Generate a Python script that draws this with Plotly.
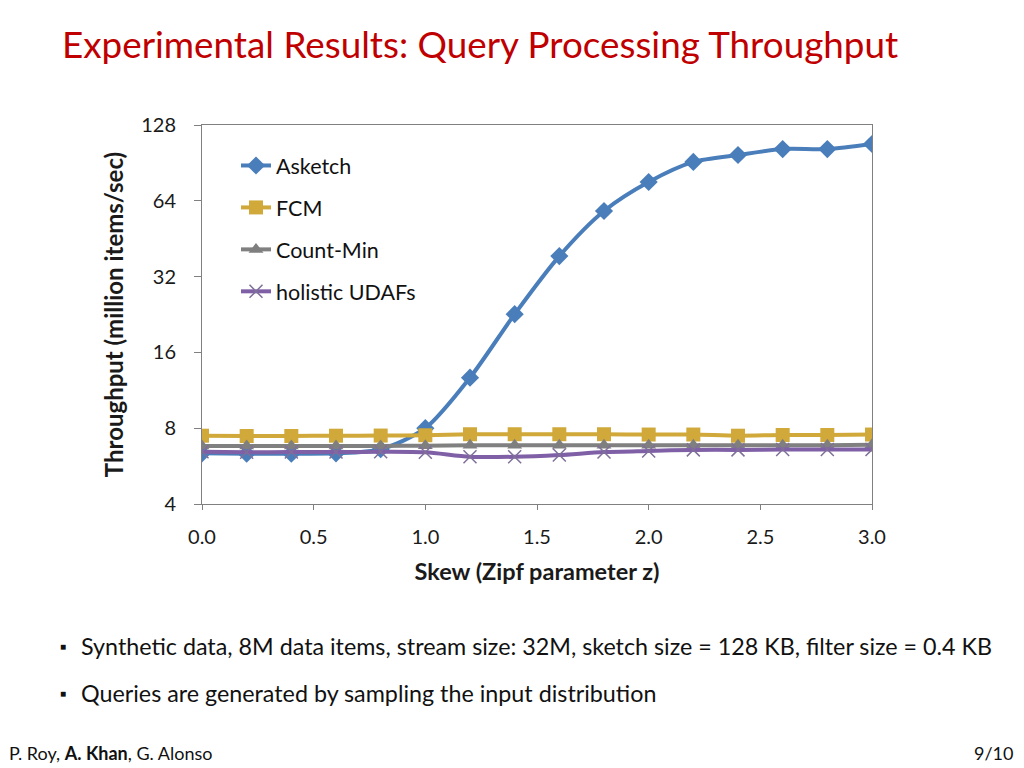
import plotly.graph_objects as go

skew = [0.0, 0.2, 0.4, 0.6, 0.8, 1.0, 1.2, 1.4, 1.6, 1.8, 2.0, 2.2, 2.4, 2.6, 2.8, 3.0]
asketch = [6.36, 6.34, 6.34, 6.36, 6.6, 8.0, 12.7, 22.7, 38.6, 58.3, 76.0, 91.3, 97.3, 102.7, 102.7, 107.6]
fcm = [7.47, 7.45, 7.45, 7.47, 7.48, 7.5, 7.57, 7.57, 7.57, 7.57, 7.55, 7.55, 7.47, 7.52, 7.52, 7.55]
countmin = [6.8, 6.8, 6.8, 6.8, 6.8, 6.82, 6.85, 6.85, 6.85, 6.85, 6.85, 6.85, 6.85, 6.85, 6.85, 6.87]
holistic = [6.45, 6.42, 6.43, 6.43, 6.45, 6.42, 6.16, 6.16, 6.26, 6.43, 6.5, 6.56, 6.56, 6.58, 6.58, 6.58]

y_ticks = [4, 8, 16, 32, 64, 128]
x_ticks = [0.0, 0.5, 1.0, 1.5, 2.0, 2.5, 3.0]
x_tick_labels = ["0.0", "0.5", "1.0", "1.5", "2.0", "2.5", "3.0"]

FONT = "Lato"
OFF = 8  # page body margin
L, R, T, B = 202, 872, 125, 504  # plot area in screenshot pixels

def px(xp):
    return (xp - L) / (R - L)

def py(yp):
    return (B - yp) / (B - T)

fig = go.Figure()

series = [
    ("Asketch", asketch, "#4A7EBB", dict(symbol="diamond", size=14, color="#4A7EBB")),
    ("FCM", fcm, "#D0A93A", dict(symbol="square", size=14, color="#D0A93A")),
    ("Count-Min", countmin, "#808080", dict(symbol="triangle-up", size=13, color="#7F7F7F")),
    ("holistic UDAFs", holistic, "#7F5FA6", dict(symbol="x-thin", size=13, color="#7F7F7F",
                                                   line=dict(width=1.5, color="#7F6F99"))),
]

for i in [0, 1, 2, 3]:
    name, vals, col, mk = series[i]
    fig.add_trace(go.Scatter(
        x=skew, y=vals, name=name, mode="lines+markers",
        line=dict(color=col, width=4, shape="spline", smoothing=0.8),
        marker=mk, legendgroup=name, legendrank=i + 1,
    ))

fig.update_layout(
    width=1024, height=768,
    margin=dict(l=L - OFF, r=1024 - (R - OFF), t=T - OFF, b=768 - (B - OFF)),
    paper_bgcolor="white", plot_bgcolor="white",
    font=dict(family=FONT, size=20, color="#1a1a1a"),
    showlegend=True,
    legend=dict(x=px(236), y=py(145), xanchor="left", yanchor="top",
                font=dict(family=FONT, size=21.5, color="#111"),
                tracegroupgap=11, bgcolor="rgba(0,0,0,0)", itemwidth=30,
                traceorder="grouped"),
    title=dict(text="Experimental Results: Query Processing Throughput",
               x=(62 - OFF) / 1024, xref="container", xanchor="left",
               y=1 - (45 - OFF) / 768, yref="container", yanchor="middle",
               font=dict(family=FONT, size=36.8, color="#C00000")),
    xaxis=dict(range=[0, 3], tickvals=x_ticks, ticktext=x_tick_labels,
               showgrid=False, zeroline=False, showline=True, linecolor="#808080",
               linewidth=1, mirror=True, ticks="outside", ticklen=5, tickcolor="#808080",
               ticklabelstandoff=10,
               tickfont=dict(size=20, family=FONT),
               title=dict(text="<b>Skew (Zipf parameter z)</b>", font=dict(size=23.5, family=FONT),
                          standoff=16)),
    yaxis=dict(type="log", range=[0.60206, 2.10721], tickvals=y_ticks,
               ticktext=[str(v) for v in y_ticks],
               showgrid=False, zeroline=False, showline=True, linecolor="#808080",
               linewidth=1, mirror=True, ticks="outside", ticklen=7, tickcolor="#808080",
               ticklabelstandoff=14,
               tickfont=dict(size=20, family=FONT),
               title=dict(text="<b>Throughput (million items/sec)</b>", font=dict(size=24, family=FONT),
                          standoff=10)),
)

annots = [
    dict(text="■", x=px(58), y=py(646), font=dict(size=10, color="#111")),
    dict(text="Synthetic data, 8M data items, stream size: 32M, sketch size = 128 KB, filter size = 0.4 KB",
         x=px(79), y=py(646), font=dict(size=23.3, color="#111")),
    dict(text="■", x=px(58), y=py(693), font=dict(size=10, color="#111")),
    dict(text="Queries are generated by sampling the input distribution",
         x=px(79), y=py(693), font=dict(size=23.3, color="#111")),
    dict(text="P. Roy, <b>A. Khan</b>, G. Alonso", x=px(7), y=py(753), font=dict(size=18, color="#111")),
]
for a in annots:
    fig.add_annotation(xref="paper", yref="paper", xanchor="left", yanchor="middle",
                       showarrow=False, text=a["text"], x=a["x"], y=a["y"],
                       font=dict(family=FONT, **a["font"]))
fig.add_annotation(xref="paper", yref="paper", xanchor="right", yanchor="middle",
                   showarrow=False, text="9/10", x=px(1015), y=py(753),
                   font=dict(family=FONT, size=18, color="#111"))

fig.write_html("out.html")
